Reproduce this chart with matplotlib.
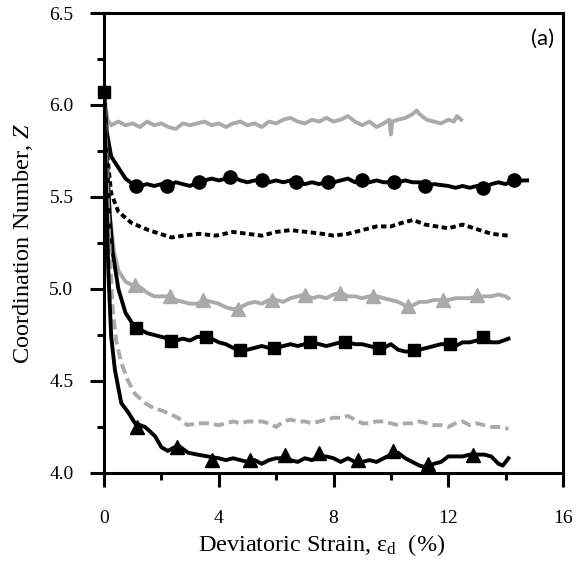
import matplotlib
matplotlib.use("Agg")
import matplotlib.pyplot as plt
from matplotlib.ticker import MultipleLocator

plt.rcParams['font.family'] = ['Liberation Serif', 'DejaVu Serif']
plt.rcParams['mathtext.fontset'] = 'custom'
plt.rcParams['mathtext.rm'] = 'Liberation Serif'
plt.rcParams['mathtext.it'] = 'Liberation Serif:italic'

# ---- data ----
# 1: gray solid (top)
s1_x = [0, 0.05, 0.12, 0.25, 0.5, 0.75, 1.0, 1.25, 1.5, 1.75, 2.0, 2.25, 2.5, 2.75, 3.0, 3.25, 3.5, 3.75,
        4.0, 4.25, 4.5, 4.75, 5.0, 5.25, 5.5, 5.75, 6.0, 6.25, 6.5, 6.75, 7.0, 7.25, 7.5, 7.75, 8.0, 8.25,
        8.5, 8.75, 9.0, 9.25, 9.5, 9.75, 9.95, 10.0, 10.05, 10.25, 10.5, 10.75, 10.9, 11.0, 11.25, 11.5,
        11.75, 12.0, 12.2, 12.3, 12.45]
s1_y = [6.07, 6.00, 5.92, 5.89, 5.91, 5.89, 5.90, 5.88, 5.91, 5.89, 5.90, 5.88, 5.87, 5.90, 5.89, 5.90, 5.91, 5.89,
        5.90, 5.88, 5.90, 5.91, 5.89, 5.90, 5.88, 5.91, 5.90, 5.92, 5.93, 5.91, 5.90, 5.92, 5.91, 5.93, 5.91, 5.92,
        5.94, 5.91, 5.89, 5.91, 5.88, 5.90, 5.92, 5.84, 5.91, 5.92, 5.93, 5.95, 5.97, 5.95, 5.92, 5.91,
        5.90, 5.92, 5.91, 5.94, 5.92]

# 2: black solid with circles
s2_x = [0, 0.1, 0.25, 0.5, 0.75, 1.0, 1.25, 1.5, 1.75, 2.0, 2.25, 2.5, 2.75, 3.0, 3.25, 3.5, 3.75, 4.0, 4.25,
        4.5, 4.75, 5.0, 5.25, 5.5, 5.75, 6.0, 6.25, 6.5, 6.75, 7.0, 7.25, 7.5, 7.75, 8.0, 8.25, 8.5, 8.75,
        9.0, 9.25, 9.5, 9.75, 10.0, 10.25, 10.5, 10.75, 11.0, 11.25, 11.5, 12.0, 12.25, 12.5, 12.75, 13.0,
        13.25, 13.5, 13.75, 14.0, 14.25, 14.5, 14.75]
s2_y = [6.07, 5.85, 5.72, 5.66, 5.60, 5.57, 5.56, 5.57, 5.56, 5.57, 5.56, 5.58, 5.57, 5.56, 5.58, 5.59, 5.60, 5.59, 5.60,
        5.61, 5.59, 5.58, 5.59, 5.59, 5.58, 5.59, 5.58, 5.59, 5.58, 5.57, 5.58, 5.57, 5.58, 5.58, 5.59, 5.60, 5.58,
        5.59, 5.58, 5.59, 5.58, 5.58, 5.58, 5.59, 5.58, 5.58, 5.56, 5.57, 5.56, 5.55, 5.56, 5.55, 5.56,
        5.55, 5.57, 5.58, 5.57, 5.59, 5.59, 5.59]
s2_mx = [1.1, 2.2, 3.3, 4.4, 5.5, 6.7, 7.8, 9.0, 10.1, 11.2, 13.2, 14.3]
s2_my = [5.56, 5.56, 5.58, 5.61, 5.59, 5.58, 5.58, 5.59, 5.58, 5.56, 5.55, 5.59]

# 3: black dotted
s3_x = [0, 0.1, 0.25, 0.5, 0.95, 1.55, 2.35, 2.8, 3.3, 3.9, 4.5, 5.0, 5.5, 6.0, 6.5, 7.07, 7.6, 8.0, 8.5,
        9.0, 9.5, 10.0, 10.4, 10.77, 11.2, 11.6, 12.0, 12.5, 13.1, 13.5, 14.08]
s3_y = [6.07, 5.75, 5.52, 5.42, 5.36, 5.32, 5.28, 5.29, 5.30, 5.29, 5.31, 5.30, 5.29, 5.31, 5.32, 5.31, 5.30, 5.29, 5.30,
        5.32, 5.34, 5.34, 5.36, 5.375, 5.35, 5.34, 5.33, 5.35, 5.32, 5.30, 5.29]

# 4: gray solid with triangles
s4_x = [0, 0.1, 0.2, 0.35, 0.5, 0.75, 1.0, 1.25, 1.5, 1.75, 2.0, 2.25, 2.5, 2.75, 3.0, 3.25, 3.5, 3.75, 4.0,
        4.25, 4.5, 4.75, 5.0, 5.25, 5.5, 5.75, 6.0, 6.25, 6.5, 6.75, 7.0, 7.25, 7.5, 7.75, 8.0, 8.25, 8.5,
        8.75, 9.0, 9.25, 9.5, 9.75, 10.0, 10.25, 10.5, 10.75, 11.0, 11.25, 11.5, 11.75, 12.0, 12.25, 12.5,
        12.75, 13.0, 13.25, 13.5, 13.75, 14.0, 14.1]
s4_y = [6.07, 5.70, 5.40, 5.20, 5.10, 5.04, 5.02, 5.01, 4.98, 4.96, 4.96, 4.96, 4.94, 4.93, 4.92, 4.92, 4.94, 4.93, 4.92,
        4.90, 4.89, 4.90, 4.92, 4.93, 4.92, 4.94, 4.94, 4.93, 4.95, 4.96, 4.97, 4.95, 4.96, 4.95, 4.97, 4.98, 4.96,
        4.96, 4.95, 4.96, 4.96, 4.95, 4.94, 4.93, 4.91, 4.91, 4.93, 4.93, 4.94, 4.94, 4.94, 4.95, 4.95,
        4.95, 4.96, 4.96, 4.96, 4.97, 4.96, 4.95]
s4_mx = [1.08, 2.3, 3.45, 4.67, 5.85, 7.0, 8.22, 9.38, 10.6, 11.8, 13.0]
s4_my = [5.02, 4.96, 4.94, 4.89, 4.94, 4.97, 4.98, 4.96, 4.91, 4.94, 4.97]

# 5: black solid with squares
s5_x = [0, 0.1, 0.2, 0.3, 0.5, 0.75, 1.0, 1.25, 1.5, 1.75, 2.0, 2.25, 2.5, 2.75, 3.0, 3.25, 3.5, 3.75, 4.0,
        4.25, 4.5, 4.75, 5.0, 5.25, 5.5, 5.75, 6.0, 6.25, 6.5, 6.75, 7.0, 7.25, 7.5, 7.75, 8.0, 8.25, 8.5,
        8.75, 9.0, 9.25, 9.5, 9.75, 10.0, 10.25, 10.5, 10.75, 11.0, 11.25, 11.5, 11.75, 12.0, 12.25, 12.5,
        12.75, 13.0, 13.25, 13.5, 13.75, 14.1]
s5_y = [6.07, 5.70, 5.40, 5.20, 5.00, 4.87, 4.81, 4.78, 4.76, 4.75, 4.74, 4.73, 4.72, 4.73, 4.72, 4.74, 4.74, 4.73, 4.71,
        4.70, 4.68, 4.67, 4.67, 4.68, 4.69, 4.68, 4.68, 4.69, 4.70, 4.69, 4.70, 4.71, 4.70, 4.69, 4.70, 4.71, 4.71,
        4.70, 4.70, 4.69, 4.68, 4.68, 4.70, 4.67, 4.66, 4.66, 4.67, 4.68, 4.69, 4.70, 4.70, 4.69, 4.71,
        4.71, 4.72, 4.73, 4.71, 4.71, 4.73]
s5_mx = [0, 1.1, 2.33, 3.55, 4.74, 5.92, 7.18, 8.4, 9.6, 10.8, 12.05, 13.2]
s5_my = [6.07, 4.79, 4.72, 4.74, 4.67, 4.68, 4.71, 4.71, 4.68, 4.67, 4.70, 4.74]

# 6: gray dashed
s6_x = [0, 0.1, 0.2, 0.3, 0.42, 0.6, 0.84, 1.08, 1.43, 1.75, 2.0, 2.3, 2.58, 2.9, 3.25, 3.6, 4.0, 4.25, 4.5,
        4.75, 5.0, 5.25, 5.5, 5.75, 6.0, 6.25, 6.5, 6.75, 7.0, 7.25, 7.5, 7.75, 8.0, 8.25, 8.5, 8.75, 9.0,
        9.25, 9.5, 9.75, 10.0, 10.25, 10.5, 10.75, 11.0, 11.25, 11.5, 11.75, 12.0, 12.25, 12.5, 12.75, 13.0,
        13.25, 13.5, 13.75, 14.1]
s6_y = [6.07, 5.60, 5.20, 4.90, 4.72, 4.60, 4.50, 4.43, 4.38, 4.35, 4.34, 4.32, 4.30, 4.26, 4.27, 4.27, 4.26, 4.27, 4.28,
        4.27, 4.28, 4.28, 4.28, 4.27, 4.25, 4.28, 4.29, 4.28, 4.28, 4.27, 4.28, 4.29, 4.30, 4.30, 4.31, 4.29, 4.27,
        4.27, 4.28, 4.28, 4.27, 4.26, 4.27, 4.27, 4.28, 4.27, 4.26, 4.26, 4.25, 4.27, 4.28, 4.26, 4.27,
        4.26, 4.25, 4.25, 4.24]

# 7: black solid with triangles
s7_x = [0, 0.08, 0.15, 0.25, 0.38, 0.6, 0.84, 1.08, 1.43, 1.78, 2.0, 2.22, 2.58, 2.93, 3.25, 3.62, 4.0, 4.25,
        4.5, 4.75, 5.0, 5.25, 5.5, 5.75, 6.0, 6.25, 6.5, 6.75, 7.0, 7.25, 7.5, 7.75, 8.0, 8.25, 8.5, 8.75,
        9.0, 9.25, 9.5, 9.75, 10.0, 10.25, 10.5, 10.75, 11.0, 11.25, 11.5, 11.75, 12.0, 12.25, 12.5, 12.75,
        13.0, 13.25, 13.5, 13.75, 13.9, 14.1]
s7_y = [6.07, 5.50, 5.10, 4.74, 4.56, 4.38, 4.33, 4.27, 4.25, 4.20, 4.14, 4.12, 4.15, 4.11, 4.10, 4.09, 4.08, 4.07,
        4.08, 4.07, 4.06, 4.07, 4.05, 4.07, 4.08, 4.08, 4.07, 4.06, 4.08, 4.07, 4.09, 4.09, 4.08, 4.06, 4.08, 4.06,
        4.06, 4.07, 4.06, 4.08, 4.10, 4.11, 4.08, 4.06, 4.04, 4.03, 4.05, 4.06, 4.09, 4.09, 4.09, 4.10,
        4.10, 4.10, 4.09, 4.05, 4.04, 4.08]
s7_mx = [1.14, 2.53, 3.75, 5.1, 6.3, 7.5, 8.85, 10.07, 11.3, 12.86]
s7_my = [4.25, 4.14, 4.07, 4.07, 4.10, 4.11, 4.07, 4.12, 4.05, 4.10]

x_ticks = [0, 4, 8, 12, 16]
y_ticks = [4.0, 4.5, 5.0, 5.5, 6.0, 6.5]

GRAY = '#AAAAAA'

fig = plt.figure(figsize=(5.76, 5.63), dpi=100)
ax = fig.add_axes([0.1806, 0.1599, 0.7968, 0.8170])

lw = 2.8
ax.plot(s1_x, s1_y, color=GRAY, lw=lw)
ax.plot(s2_x, s2_y, color='black', lw=lw)
ax.plot(s2_mx, s2_my, 'o', color='black', ms=9.5, ls='none')
ax.plot(s3_x, s3_y, color='black', lw=lw, ls=(0, (1.4, 0.9)))
ax.plot(s4_x, s4_y, color=GRAY, lw=lw)
ax.plot(s4_mx, s4_my, '^', color=GRAY, ms=9.5, ls='none')
ax.plot(s5_x, s5_y, color='black', lw=lw)
ax.plot(s5_mx, s5_my, 's', color='black', ms=9, ls='none', clip_on=False, zorder=5)
ax.plot(s6_x, s6_y, color=GRAY, lw=lw, ls=(0, (2.6, 1.3)))
ax.plot(s7_x, s7_y, color='black', lw=lw)
ax.plot(s7_mx, s7_my, '^', color='black', ms=9.5, ls='none')

ax.set_xlim(0, 16)
ax.set_ylim(4.0, 6.5)
ax.set_xticks(x_ticks)
ax.set_yticks(y_ticks)
ax.set_yticklabels([f'{v:.1f}' for v in y_ticks])
ax.xaxis.set_minor_locator(MultipleLocator(2))
ax.yaxis.set_minor_locator(MultipleLocator(0.25))
for s in ax.spines.values():
    s.set_linewidth(2.2)
ax.tick_params(which='major', direction='out', length=10, width=2.2, labelsize=14)
ax.tick_params(which='minor', direction='out', length=5, width=2.2)
ax.tick_params(axis='x', which='major', pad=17)
ax.tick_params(axis='y', which='major', pad=12)

ax.set_xlabel('Deviatoric Strain, ε$_{\\rm d}$  (%)', fontsize=17.5)
ax.xaxis.set_label_coords(0.475, -0.128)
ax.set_ylabel('Coordination Number, $Z$', fontsize=17.5, labelpad=10)
ax.text(0.98, 0.965, '(a)', transform=ax.transAxes, ha='right', va='top',
        fontsize=16, family=['Lato', 'DejaVu Sans'])

fig.savefig('out.png', dpi=100)
